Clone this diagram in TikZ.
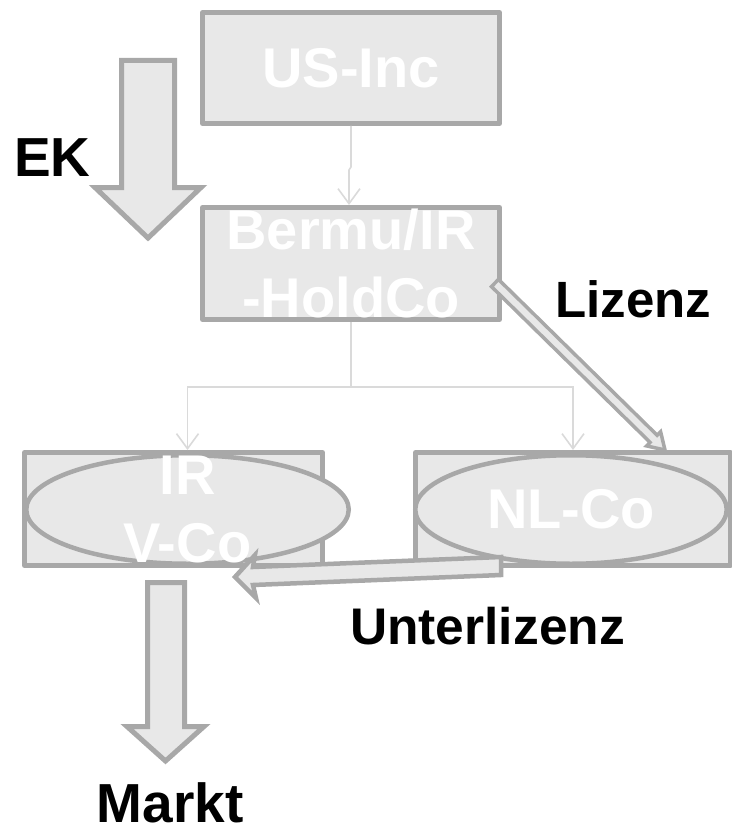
\documentclass[tikz,border=0pt]{standalone}
\usepackage{fontspec}
\setmainfont{Liberation Sans}
\usetikzlibrary{arrows.meta,shapes.geometric}

\definecolor{boxfill}{RGB}{232,232,232}
\definecolor{boxline}{RGB}{168,168,168}
\definecolor{connline}{RGB}{218,218,218}

\newcommand\whitefont{\fontsize{56}{68}\selectfont\bfseries}

\tikzset{
  entity/.style={rectangle, draw=boxline, fill=boxfill, line width=5,
    inner sep=0, line join=round},
  oval/.style={ellipse, draw=boxline, fill=boxfill, line width=4.5, inner sep=0},
  whitetext/.style={text=white, font=\whitefont, align=center, inner sep=0},
  blacktext/.style={text=black, inner sep=0, anchor=base},
  conn/.style={draw=connline, line width=1.6,
    -{Straight Barb[length=15, width=22, line width=1.6]}},
  blockarrow/.style={draw=boxline, fill=boxfill, line join=miter},
}

\begin{document}
\begin{tikzpicture}[x=1pt, y=-1pt]
\useasboundingbox (0,0) rectangle (731,832);

% company boxes
\node[entity, whitetext, minimum width=297, minimum height=111] (us) at (351,68) {US-Inc};
\node[entity, whitetext, minimum width=297, minimum height=112] (hold) at (351,263.5) {Bermu/IR\\-HoldCo};

% subsidiaries: rectangle with an ellipse on top
\node[entity, minimum width=298, minimum height=113] (irbox) at (173.5,509) {};
\node[oval, minimum width=322.5, minimum height=108.5] (irv) at (187.5,509.5) {};
\node[whitetext] (irlbl) at (irv.center) {IR\\V-Co};

\node[entity, minimum width=315, minimum height=113] (nlbox) at (573,509) {};
\node[oval, minimum width=311.5, minimum height=108.5] (nl) at (571,509.5) {};
\node[whitetext] (nllbl) at (nl.center) {NL-Co};

% ownership connectors
\draw[conn] (us.south) -- ++(0,41) -- ++(-2,3) -- (hold.north -| 349,0);
\draw[conn] (hold.south) -- ++(0,65) coordinate (split) -| (irv.center |- irbox.north);
\draw[conn] (split) -| (573,0 |- nlbox.north);

% licence arrow from the holding to NL-Co
\coordinate (lzB) at (665,450);
\draw[blockarrow, line width=3.5]
  (498.5,279.4) -- (657.1,435.2) -- (660.6,431.7) -- (lzB)
  -- (646.6,445.9) -- (650.1,442.4) -- (491.5,286.6) -- cycle;

% sublicence arrow from NL-Co to IR V-Co
\coordinate (ulB) at (235,577);
\draw[blockarrow, line width=4.5]
  (501,557) -- (253,567) -- (255,555) -- (ulB) -- (256,598) -- (253,585)
  -- (501,575) -- cycle;

% equity arrow
\coordinate (ekTip) at (148,238);
\draw[blockarrow, line width=5]
  (121.5,60.5) -- (174.5,60.5) -- (174.5,187.5) -- (201,187.5) -- (ekTip)
  -- (95,187.5) -- (121.5,187.5) -- cycle;

% market arrow
\coordinate (mkTip) at (165.5,761);
\draw[blockarrow, line width=5]
  (147.5,582.5) -- (184.5,582.5) -- (184.5,726.5) -- (204,726.5) -- (mkTip)
  -- (127,726.5) -- (147.5,726.5) -- cycle;

% labels
\node[blacktext, font=\fontsize{55}{66}\selectfont\bfseries] (ek) at (52.5,176) {EK};
\node[blacktext, font=\fontsize{51}{61}\selectfont\bfseries] (lizenz) at (633.5,317) {Lizenz};
\node[blacktext, font=\fontsize{51.5}{62}\selectfont\bfseries] (unterlizenz) at (487.5,644) {Unterlizenz};
\node[blacktext, font=\fontsize{55}{66}\selectfont\bfseries] (markt) at (170,822) {Markt};
\end{tikzpicture}
\end{document}
